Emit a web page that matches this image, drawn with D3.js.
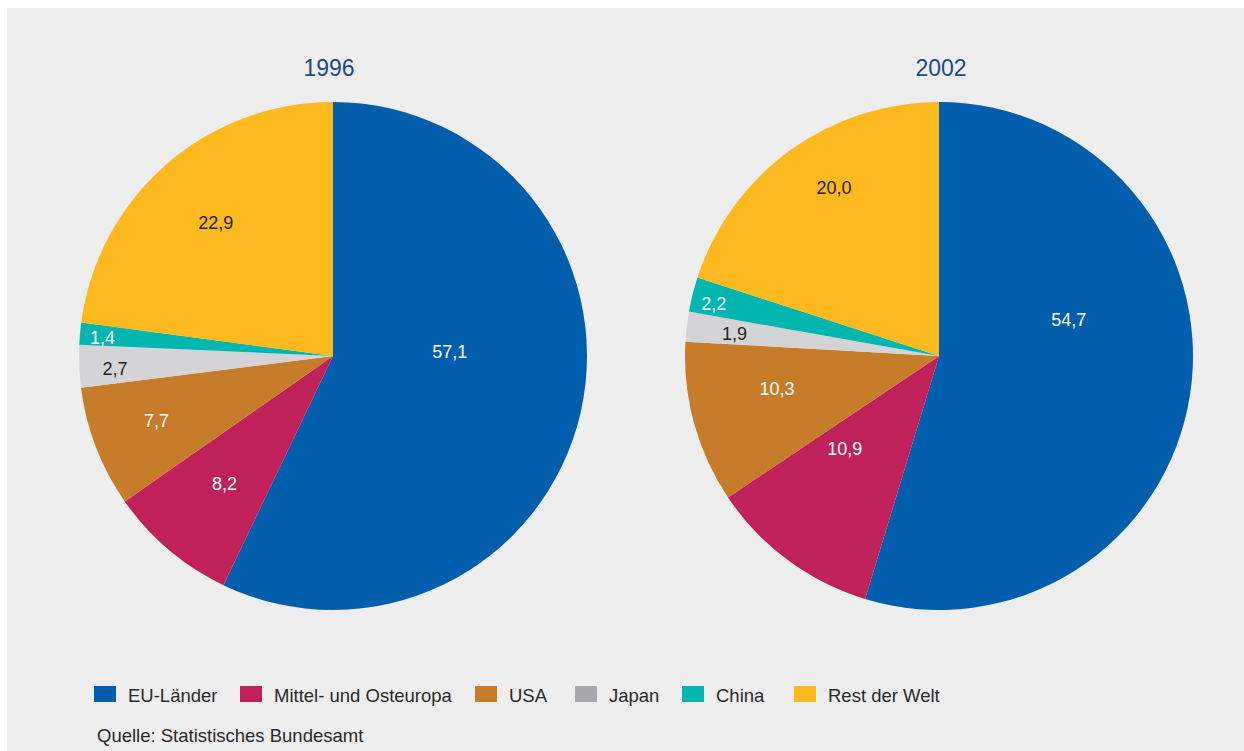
<!DOCTYPE html>
<html lang="de">
<head>
<meta charset="utf-8">
<script src="https://cdn.jsdelivr.net/npm/d3@7"></script>
<style>
  html, body { margin: 0; padding: 0; background: #ffffff; }
  svg { display: block; font-family: "Liberation Sans", Arial, sans-serif; }
</style>
</head>
<body>
<svg id="chart" width="1244" height="751"></svg>
<script>
// Regionen (Reihenfolge im Uhrzeigersinn ab 12 Uhr)
const categories = ["EU-Länder", "Mittel- und Osteuropa", "USA", "Japan", "China", "Rest der Welt"];
const years = ["1996", "2002"];
// Anteile in Prozent
const values1996 = [57.1, 8.2, 7.7, 2.7, 1.4, 22.9];
const values2002 = [54.7, 10.9, 10.3, 1.9, 2.2, 20.0];
const sourceNote = "Quelle: Statistisches Bundesamt";

const sliceColors = ["#005eac", "#c0215a", "#c77c2a", "#d4d4d6", "#00b6ae", "#fdb91e"];
const legendColors = ["#005eac", "#c0215a", "#c77c2a", "#a7a8ab", "#00b6ae", "#fdb91e"];
const labelColors = ["#ffffff", "#ffffff", "#ffffff", "#222222", "#ffffff", "#222222"];

// Beschriftungslage je Segment: [Radiusanteil, Winkelverschiebung in Grad]
const labelLayout1996 = [[0.46, -15], [0.66, 0], [0.74, 1], [0.86, -1], [0.91, -0.5], [0.70, 0]];
const labelLayout2002 = [[0.53, -24], [0.52, 9], [0.65, 4], [0.81, -0.5], [0.91, -1], [0.78, 4]];

const svg = d3.select("#chart");
const W = 1244, H = 751;

// Hintergrundfläche
svg.append("rect").attr("x", 7).attr("y", 8).attr("width", W - 7).attr("height", H - 8)
  .attr("fill", "#eeeeee");

const R = 254;
const centers = [[333, 356], [939, 356]];
const pie = d3.pie().sort(null).value(d => d).startAngle(0).endAngle(2 * Math.PI);
const arc = d3.arc().innerRadius(0).outerRadius(R);
const fmt = v => d3.format(".1f")(v).replace(".", ",");

function drawPie(values, layout, center, title, titleShift) {
  const g = svg.append("g").attr("transform", `translate(${center[0]},${center[1]})`);
  const arcs = pie(values);
  g.selectAll("path.slice").data(arcs).join("path")
    .attr("class", "slice")
    .attr("d", arc)
    .attr("fill", (d, i) => sliceColors[i]);

  g.selectAll("text.val").data(arcs).join("text")
    .attr("class", "val")
    .attr("transform", (d, i) => {
      const a = (d.startAngle + d.endAngle) / 2 + layout[i][1] * Math.PI / 180;
      const r = R * layout[i][0];
      return `translate(${r * Math.sin(a)},${-r * Math.cos(a)})`;
    })
    .attr("text-anchor", "middle")
    .attr("dy", "0.35em")
    .attr("font-size", 18)
    .attr("fill", (d, i) => labelColors[i])
    .text(d => fmt(d.data));

  svg.append("text")
    .attr("x", center[0] + titleShift).attr("y", 76)
    .attr("text-anchor", "middle")
    .attr("font-size", 23)
    .attr("fill", "#1b4a86")
    .text(title);
}

drawPie(values1996, labelLayout1996, centers[0], years[0], -4);
drawPie(values2002, labelLayout2002, centers[1], years[1], 2);

// Legende
const legendX = [94, 240, 475, 575, 682, 794];
const legend = svg.append("g");
categories.forEach((c, i) => {
  legend.append("rect").attr("x", legendX[i]).attr("y", 686).attr("width", 22).attr("height", 16)
    .attr("fill", legendColors[i]);
  legend.append("text").attr("x", legendX[i] + 34).attr("y", 702)
    .attr("font-size", 18.5).attr("fill", "#2a2a2a").text(c);
});

svg.append("text").attr("x", 97).attr("y", 742)
  .attr("font-size", 18.5).attr("fill", "#2a2a2a").text(sourceNote);
</script>
</body>
</html>
